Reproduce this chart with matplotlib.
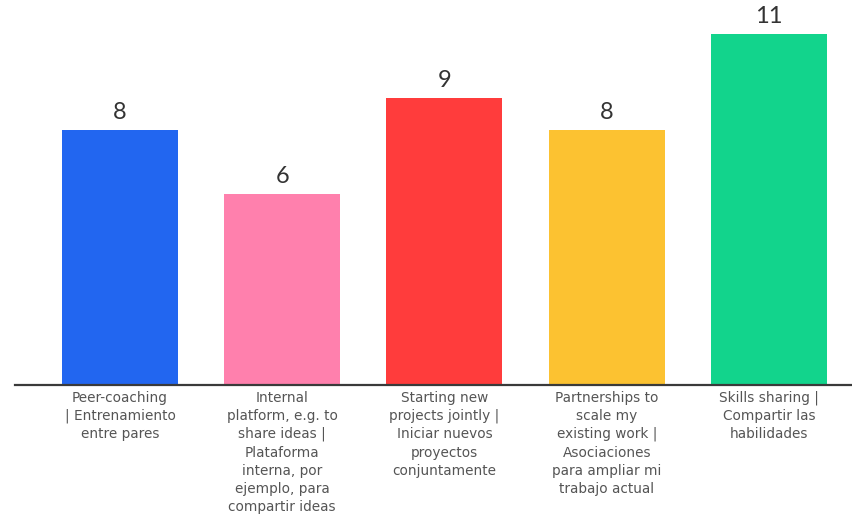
import matplotlib
matplotlib.use("Agg")
import matplotlib.pyplot as plt

# data
labels = [
    "Peer-coaching\n| Entrenamiento\nentre pares",
    "Internal\nplatform, e.g. to\nshare ideas |\nPlataforma\ninterna, por\nejemplo, para\ncompartir ideas",
    "Starting new\nprojects jointly |\nIniciar nuevos\nproyectos\nconjuntamente",
    "Partnerships to\nscale my\nexisting work |\nAsociaciones\npara ampliar mi\ntrabajo actual",
    "Skills sharing |\nCompartir las\nhabilidades",
]
values = [8, 6, 9, 8, 11]
colors = ["#2266f0", "#ff80ad", "#ff3c3c", "#fcc231", "#12d48c"]

plt.rcParams["font.family"] = ["Lato", "DejaVu Sans"]

W, H = 853, 521
fig = plt.figure(figsize=(W / 100, H / 100), dpi=100)
ax = fig.add_axes([15 / W, (H - 385) / H, (W - 15) / W, 385 / H])

x = range(len(values))
bars = ax.bar(x, values, width=0.715, color=colors, zorder=2)

for b, v in zip(bars, values):
    ax.annotate(str(v), (b.get_x() + b.get_width() / 2, v),
                xytext=(0, 5), textcoords="offset points",
                ha="center", va="bottom", fontsize=17, color="#333333")

ax.set_xlim(-0.647, 4.518)
ax.set_ylim(0, 12.07)
ax.set_xticks(list(x))
ax.set_xticklabels(labels, fontsize=9.8, color="#555555", linespacing=1.38,
                   family=["DejaVu Sans"])
ax.tick_params(axis="x", length=0, pad=4)
ax.set_yticks([])
for side in ("top", "right", "left"):
    ax.spines[side].set_visible(False)
ax.spines["bottom"].set_color("#3a3a3a")
ax.spines["bottom"].set_linewidth(1.6)
ax.spines["bottom"].set_zorder(3)

fig.savefig("out.png", dpi=100)
